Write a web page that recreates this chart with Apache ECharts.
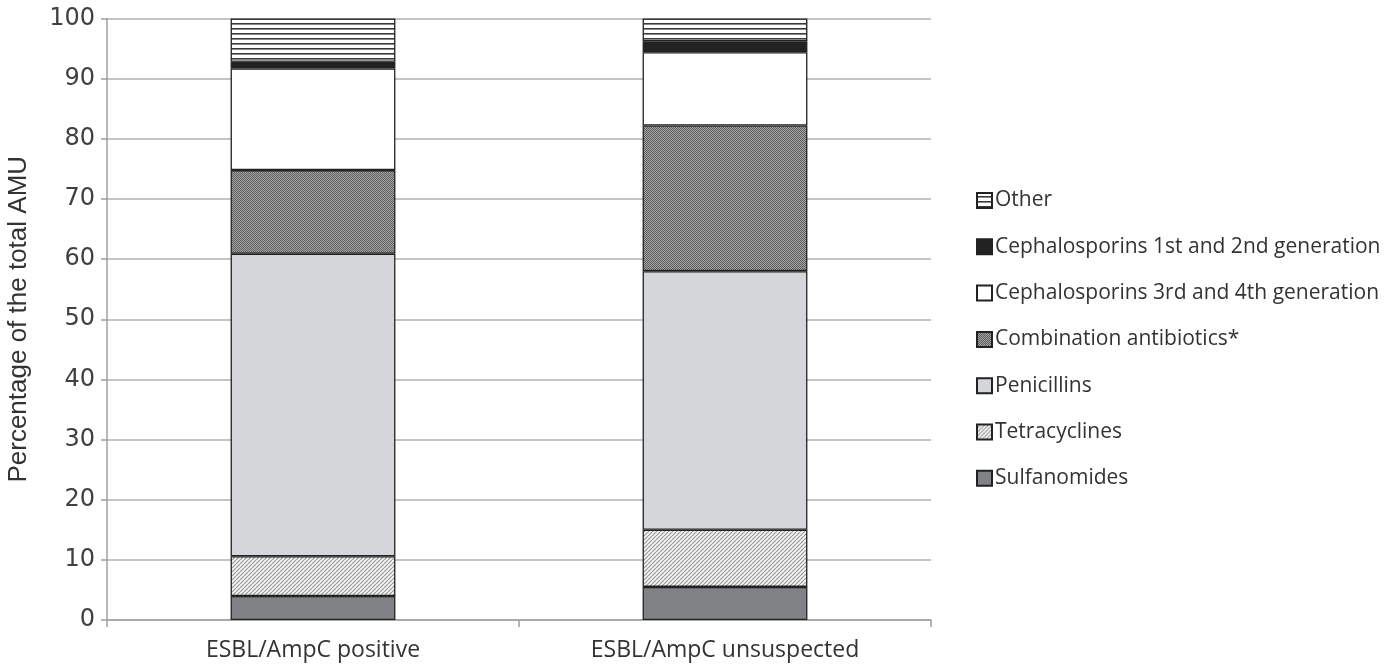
<!DOCTYPE html>
<html>
<head>
<meta charset="utf-8">
<script src="https://cdn.jsdelivr.net/npm/echarts@6/dist/echarts.min.js"></script>
<style>
html,body{margin:0;padding:0;background:#fff;}
#chart{width:1400px;height:668px;}
</style>
</head>
<body>
<div id="chart"></div>
<script>
const categories = ['ESBL/AmpC positive', 'ESBL/AmpC unsuspected'];
const seriesNames = ['Sulfanomides', 'Tetracyclines', 'Penicillins', 'Combination antibiotics*',
  'Cephalosporins 3rd and 4th generation', 'Cephalosporins 1st and 2nd generation', 'Other'];
const sulfanomides = [4.0, 5.5];
const tetracyclines = [6.6, 9.5];
const penicillins = [50.3, 43.0];
const combination = [13.9, 24.2];
const ceph34 = [16.9, 12.2];
const ceph12 = [1.1, 1.8];
const other = [7.2, 3.8];
const yTicks = [0, 10, 20, 30, 40, 50, 60, 70, 80, 90, 100];

function makeCanvas(w, h, draw) {
  const c = document.createElement('canvas');
  c.width = w; c.height = h;
  const ctx = c.getContext('2d');
  draw(ctx, w, h);
  return c;
}
const hLines = makeCanvas(8, 5, (ctx, w, h) => {
  ctx.fillStyle = '#ffffff'; ctx.fillRect(0, 0, w, h);
  ctx.fillStyle = '#3a3a3a'; ctx.fillRect(0, 3, w, 1.6);
});
const checker = makeCanvas(2, 2, (ctx) => {
  ctx.fillStyle = '#a4a4a4'; ctx.fillRect(0, 0, 2, 2);
  ctx.fillStyle = '#5e5e5e'; ctx.fillRect(0, 0, 1, 1); ctx.fillRect(1, 1, 1, 1);
});
const diag = makeCanvas(4, 4, (ctx, w, h) => {
  ctx.fillStyle = '#f4f4f4'; ctx.fillRect(0, 0, w, h);
  ctx.strokeStyle = '#9a9a9a'; ctx.lineWidth = 1.2;
  ctx.beginPath();
  for (let k = -1; k <= 1; k++) {
    ctx.moveTo(k * w, h); ctx.lineTo(k * w + w, 0);
  }
  ctx.stroke();
});

const fills = [
  '#808285',
  { image: diag, repeat: 'repeat' },
  '#d4d6d9',
  { image: checker, repeat: 'repeat' },
  '#ffffff',
  '#222222',
  { image: hLines, repeat: 'repeat' }
];
const values = [sulfanomides, tetracyclines, penicillins, combination, ceph34, ceph12, other];

const series = seriesNames.map((n, i) => ({
  name: n,
  type: 'bar',
  stack: 'total',
  barWidth: '40%',
  data: values[i],
  itemStyle: { color: fills[i], borderColor: '#222', borderWidth: 1.3 },
  emphasis: { disabled: true }
}));

const chart = echarts.init(document.getElementById('chart'), null, { renderer: 'canvas' });
chart.setOption({
  animation: false,
  backgroundColor: '#fff',
  grid: { left: 107, right: 469, top: 18.5, bottom: 48, containLabel: false, outerBoundsMode: 'none' },
  legend: {
    data: seriesNames.slice().reverse(),
    orient: 'vertical',
    left: 971,
    top: 182,
    itemWidth: 15,
    itemHeight: 15,
    itemGap: 19.3,
    icon: 'rect',
    selectedMode: false,
    textStyle: { fontFamily: 'Open Sans', fontSize: 21, lineHeight: 27, color: '#333', padding: [0, 0, 0, -2] }
  },
  xAxis: {
    type: 'category',
    data: categories,
    axisLine: { lineStyle: { color: '#a0a0a0', width: 1.5 } },
    axisTick: { show: true, length: 7, alignWithLabel: false, lineStyle: { color: '#a0a0a0', width: 1.5 } },
    axisLabel: { fontFamily: 'Open Sans', fontSize: 23, color: '#333', margin: 19 }
  },
  yAxis: {
    type: 'value',
    min: yTicks[0],
    max: yTicks[yTicks.length - 1],
    interval: 10,
    name: 'Percentage of the total AMU',
    nameLocation: 'middle',
    nameGap: 75,
    nameTextStyle: { fontFamily: 'Liberation Sans', fontSize: 26, color: '#333' },
    axisLine: { show: true, lineStyle: { color: '#a0a0a0', width: 1.5 } },
    axisTick: { show: true, length: 6, lineStyle: { color: '#a0a0a0', width: 1.5 } },
    axisLabel: { fontFamily: 'DejaVu Sans', fontSize: 24, color: '#404040', margin: 12 },
    splitLine: { show: true, lineStyle: { color: '#b0b0b0', width: 1.5 } }
  },
  series: series
});
</script>
</body>
</html>
